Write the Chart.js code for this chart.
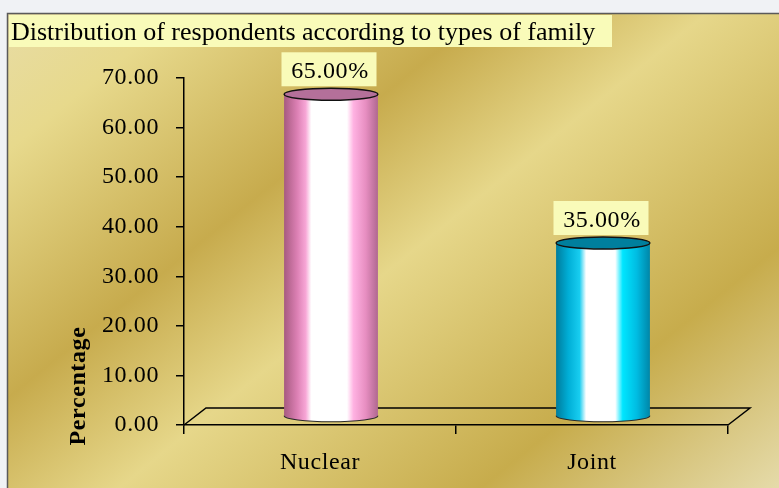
<!DOCTYPE html>
<html><head><meta charset="utf-8">
<script src="https://cdn.jsdelivr.net/npm/chart.js@4"></script>
<style>html,body{margin:0;padding:0;background:#f0f2f5;overflow:hidden}canvas{display:block}</style>
</head><body>
<canvas id="c" width="779" height="488"></canvas>
<script>
// ---- data ----
const categories = ['Nuclear', 'Joint'];
const percentages = [65, 35];
const valueLabels = ['65.00%', '35.00%'];
const chartTitle = 'Distribution of respondents according to types of family';
const yAxisTitle = 'Percentage';
const yMin = 0, yMax = 70, yStep = 10;

// ---- styles ----
const SERIF = '"Liberation Serif", "Times New Roman", serif';
const SPACING = '0.6px';
const DEPTH_X = 22, DEPTH_Y = 17;
const cylinderStyles = [
  {stops: [[0,'#a65a80'],[0.14,'#dc80b4'],[0.23,'#f7a6d6'],[0.29,'#ffffff'],[0.67,'#ffffff'],[0.74,'#ffb2e2'],[0.87,'#e78ec1'],[1,'#b06890']], top: '#b4709a'},
  {stops: [[0,'#007c9c'],[0.13,'#00aed6'],[0.25,'#18cdf0'],[0.32,'#ffffff'],[0.63,'#ffffff'],[0.71,'#00e6ff'],[0.86,'#00bce2'],[1,'#0086a8']], top: '#007f9d'}
];

const decor = {
  id: 'decor',
  beforeDraw(chart) {
    const ctx = chart.ctx, W = chart.width, H = chart.height;
    ctx.save();
    ctx.letterSpacing = '0px';
    ctx.fillStyle = '#f0f2f5';
    ctx.fillRect(0, 0, W, H);
    const g = ctx.createLinearGradient(0, 0, 549, 680);
    g.addColorStop(0, '#e8dda8');
    g.addColorStop(0.14, '#e7d98c');
    g.addColorStop(0.36, '#c7ab4d');
    g.addColorStop(0.52, '#e6d78a');
    g.addColorStop(0.78, '#c7ac4c');
    g.addColorStop(1, '#e6dcac');
    ctx.fillStyle = g;
    ctx.fillRect(7, 13, W - 7, H - 13);
    ctx.strokeStyle = '#5a5a5a';
    ctx.lineWidth = 1.5;
    ctx.beginPath();
    ctx.moveTo(7.5, H); ctx.lineTo(7.5, 13.5); ctx.lineTo(W, 13.5);
    ctx.stroke();
    // title box
    ctx.fillStyle = '#f9fbb9';
    ctx.fillRect(9, 15, 603, 32);
    ctx.fillStyle = '#000';
    ctx.font = '26px ' + SERIF;
    ctx.textAlign = 'left';
    ctx.textBaseline = 'alphabetic';
    ctx.fillText(chartTitle, 11, 40, 595);
    // y axis title
    ctx.letterSpacing = SPACING;
    ctx.font = 'bold 24px ' + SERIF;
    ctx.translate(79, 386);
    ctx.rotate(-Math.PI / 2);
    ctx.textAlign = 'center';
    ctx.textBaseline = 'middle';
    ctx.fillText(yAxisTitle, 0, 0);
    ctx.restore();
    chart.ctx.letterSpacing = SPACING;
  },
  beforeDatasetsDraw(chart) {
    const ctx = chart.ctx, a = chart.chartArea;
    ctx.save();
    ctx.strokeStyle = '#000';
    ctx.lineWidth = 1.5;
    ctx.beginPath();
    ctx.moveTo(a.left, a.bottom);
    ctx.lineTo(a.left + DEPTH_X, a.bottom - DEPTH_Y);
    ctx.lineTo(a.right + DEPTH_X, a.bottom - DEPTH_Y);
    ctx.lineTo(a.right, a.bottom);
    ctx.stroke();
    ctx.restore();
  },
  afterDatasetsDraw(chart) {
    const ctx = chart.ctx, meta = chart.getDatasetMeta(0);
    meta.data.forEach((bar, i) => {
      const p = bar.getProps(['x', 'y', 'base', 'width'], true);
      const cx = p.x + DEPTH_X / 2, rx = p.width / 2, ry = 6;
      const top = p.y - DEPTH_Y / 2, bot = p.base - DEPTH_Y / 2;
      const st = cylinderStyles[i];
      ctx.save();
      const g = ctx.createLinearGradient(cx - rx, 0, cx + rx, 0);
      st.stops.forEach(s => g.addColorStop(s[0], s[1]));
      ctx.beginPath();
      ctx.moveTo(cx - rx, top);
      ctx.lineTo(cx - rx, bot);
      ctx.ellipse(cx, bot, rx, ry, 0, Math.PI, 0, true);
      ctx.lineTo(cx + rx, top);
      ctx.ellipse(cx, top, rx, ry, 0, 0, Math.PI, false);
      ctx.closePath();
      ctx.fillStyle = g;
      ctx.fill();
      ctx.strokeStyle = '#2a2a2a';
      ctx.lineWidth = 1.2;
      ctx.beginPath();
      ctx.ellipse(cx, bot, rx, ry, 0, 0, Math.PI, false);
      ctx.stroke();
      ctx.beginPath();
      ctx.ellipse(cx, top, rx, ry, 0, 0, Math.PI * 2);
      ctx.fillStyle = st.top;
      ctx.fill();
      ctx.strokeStyle = '#111';
      ctx.lineWidth = 1.5;
      ctx.stroke();
      // value label
      const bw = 95, bh = 34;
      const bx = cx - 2, by = top - ry - 2;
      ctx.fillStyle = '#f9fbb9';
      ctx.fillRect(bx - bw / 2, by - bh, bw, bh);
      ctx.fillStyle = '#000';
      ctx.font = '24px ' + SERIF;
      ctx.letterSpacing = SPACING;
      ctx.textAlign = 'center';
      ctx.textBaseline = 'alphabetic';
      ctx.fillText(valueLabels[i], bx + 1, by - 8);
      ctx.restore();
    });
  }
};

new Chart(document.getElementById('c'), {
  type: 'bar',
  data: {
    labels: categories,
    datasets: [{
      data: percentages,
      backgroundColor: 'rgba(0,0,0,0)',
      borderWidth: 0,
      barPercentage: 0.345,
      categoryPercentage: 1
    }]
  },
  options: {
    responsive: false,
    devicePixelRatio: 1,
    animation: false,
    layout: {padding: {top: 78, right: 51, left: 0, bottom: 0}},
    plugins: {legend: {display: false}, tooltip: {enabled: false}, title: {display: false}},
    scales: {
      x: {
        grid: {offset: true, drawOnChartArea: false, color: '#000', lineWidth: 1.5, tickLength: 9},
        border: {display: true, color: '#000', width: 1.5},
        ticks: {color: '#000', font: {family: SERIF, size: 24}, padding: 14},
        afterFit(s) { s.height = 63; }
      },
      y: {
        min: yMin, max: yMax,
        grid: {drawOnChartArea: false, color: '#000', lineWidth: 1.5, tickLength: 8},
        border: {display: true, color: '#000', width: 1.5},
        ticks: {stepSize: yStep, callback: v => Number(v).toFixed(2), color: '#000', font: {family: SERIF, size: 24}, padding: 17},
        afterFit(s) { s.width = 184; }
      }
    }
  },
  plugins: [decor]
});
</script>
</body></html>
